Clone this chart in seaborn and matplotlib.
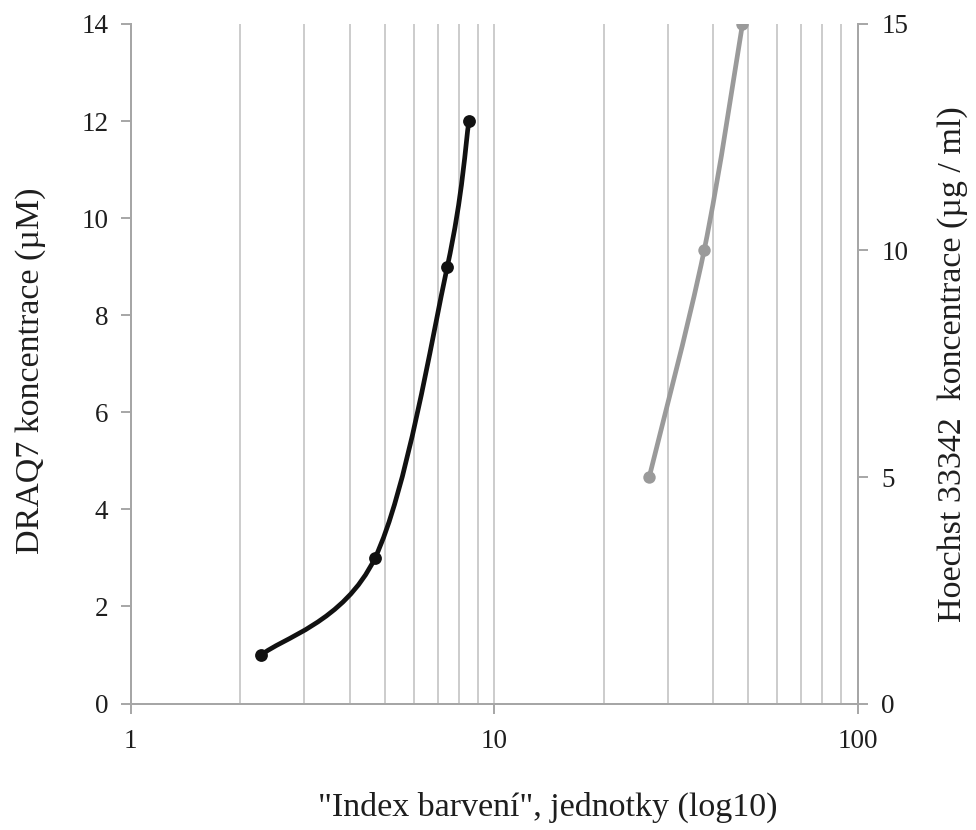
import numpy as np
import pandas as pd
import matplotlib
matplotlib.use("Agg")
import matplotlib.pyplot as plt
from matplotlib.path import Path
from matplotlib.patches import PathPatch
from matplotlib.ticker import LogLocator, FixedLocator, NullFormatter, FixedFormatter
import seaborn as sns

# --- data ---
draq7_index = [2.29, 4.70, 7.43, 8.52]
draq7_conc = [1, 3, 9, 12]
hoechst_index = [26.7, 37.8, 48.2]
hoechst_conc = [5, 10, 15]

left_ticks = [0, 2, 4, 6, 8, 10, 12, 14]
right_ticks = [0, 5, 10, 15]
x_ticks = [1, 10, 100]
x_tick_labels = ["1", "10", "100"]

sns.set_theme(style="white")
plt.rcParams['font.family'] = ['Liberation Serif', 'DejaVu Serif']

fig = plt.figure(figsize=(9.76, 8.30), dpi=100)
ax = fig.add_axes([0.1339, 0.1524, 0.8788 - 0.1339, 0.9711 - 0.1524])
ax2 = ax.twinx()

ax.set_xscale("log")
ax.set_xlim(1, 100)
ax.set_ylim(0, 14)
ax2.set_ylim(0, 15)

grid_col = "#cccccc"
spine_col = "#a6a6a6"
text_col = "#1e1e1e"
tick_fs = 19.5
label_fs = 24.5

# vertical gridlines at major and minor log positions
ax.xaxis.set_major_locator(FixedLocator(x_ticks))
ax.xaxis.set_minor_locator(LogLocator(base=10, subs=np.arange(2, 10)))
ax.xaxis.set_major_formatter(FixedFormatter(x_tick_labels))
ax.xaxis.set_minor_formatter(NullFormatter())
ax.grid(True, which="both", axis="x", color=grid_col, lw=1.4)
ax.grid(False, axis="y")
ax2.grid(False)

ax.set_yticks(left_ticks)
ax2.set_yticks(right_ticks)

for a in (ax, ax2):
    for s in a.spines.values():
        s.set_color(spine_col)
        s.set_linewidth(1.4)
    a.spines["top"].set_visible(False)
ax.tick_params(axis="both", which="major", direction="out", length=7, width=1.4,
               color=spine_col, labelsize=tick_fs, labelcolor=text_col, pad=9,
               left=True, bottom=True)
ax.tick_params(axis="x", which="minor", length=0)
ax2.tick_params(axis="y", which="major", direction="out", length=7, width=1.4,
                color=spine_col, labelsize=tick_fs, labelcolor=text_col, pad=10, right=True)
ax.tick_params(axis="x", pad=11)


def smooth_path(axis, xs, ys):
    """Excel-like smoothed line: Catmull-Rom Bezier built in display space."""
    pts = axis.transData.transform(np.column_stack([xs, ys]))
    n = len(pts)
    verts = [pts[0]]
    codes = [Path.MOVETO]
    for i in range(n - 1):
        p_prev = pts[i - 1] if i > 0 else pts[i]
        p0 = pts[i]
        p1 = pts[i + 1]
        p_next = pts[i + 2] if i + 2 < n else pts[i + 1]
        c1 = p0 + (p1 - p_prev) / 6.0
        c2 = p1 - (p_next - p0) / 6.0
        verts += [c1, c2, p1]
        codes += [Path.CURVE4] * 3
    data_verts = axis.transData.inverted().transform(np.array(verts))
    return Path(data_verts, codes)


fig.canvas.draw()

black = "#111111"
gray = "#9a9a9a"

ax.add_patch(PathPatch(smooth_path(ax, draq7_index, draq7_conc), facecolor="none",
                       edgecolor=black, lw=3.4, capstyle="round", zorder=3))
ax2.add_patch(PathPatch(smooth_path(ax2, hoechst_index, hoechst_conc), facecolor="none",
                        edgecolor=gray, lw=3.4, capstyle="round", zorder=3))

df1 = pd.DataFrame({"index": draq7_index, "conc": draq7_conc})
df2 = pd.DataFrame({"index": hoechst_index, "conc": hoechst_conc})
sns.scatterplot(data=df1, x="index", y="conc", ax=ax, color=black, s=85,
                edgecolor=black, linewidth=0, zorder=4, legend=False)
sns.scatterplot(data=df2, x="index", y="conc", ax=ax2, color=gray, s=80,
                edgecolor=gray, linewidth=0, zorder=4, legend=False)

ax.set_xlim(1, 100)
ax.set_ylim(0, 14)
ax2.set_ylim(0, 15)
ax.set_xlabel('"Index barvení", jednotky (log10)', fontsize=label_fs, color=text_col)
ax.set_ylabel("DRAQ7 koncentrace (µM)", fontsize=label_fs, color=text_col)
ax2.set_ylabel("Hoechst 33342  koncentrace (µg / ml)", fontsize=label_fs, color=text_col)
ax.xaxis.set_label_coords(0.574, -0.130)
ax.yaxis.set_label_coords(-0.1165, 0.49)
ax2.yaxis.set_label_coords(1.109, 0.5)
for a in (ax, ax2):
    a.spines["top"].set_visible(False)

fig.savefig("out.png", dpi=100, facecolor="white")
